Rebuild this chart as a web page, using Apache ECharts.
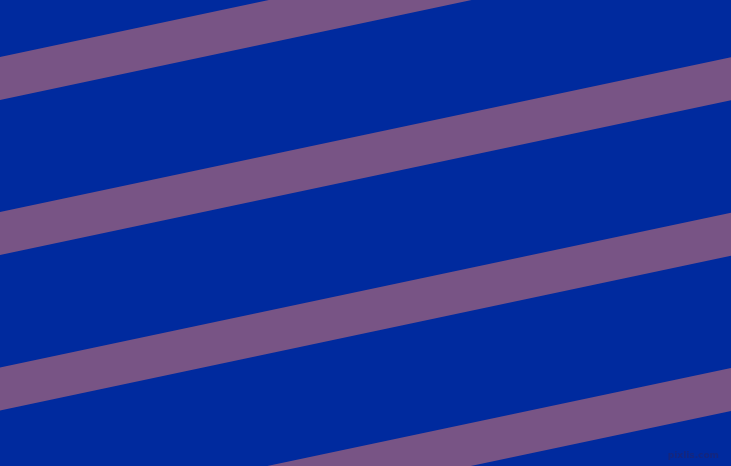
<!DOCTYPE html>
<html>
<head>
<meta charset="utf-8">
<script src="https://cdn.jsdelivr.net/npm/echarts@6/dist/echarts.min.js"></script>
<style>html,body{margin:0;padding:0;background:#002a9e;}#c{width:731px;height:466px;}</style>
</head>
<body>
<div id="c"></div>
<script>
// Stripe edges (y of top edge at left x=0 and at right x=731), in pixel units of the image
const stripeLeftTop = [57, 212, 367.5, 522.5];
const stripeRightTop = [-98, 57.3, 212.7, 368];
const stripeThickness = [43, 43, 43, 43];
const xRange = [0, 731];
const yRange = [0, 466];

const chart = echarts.init(document.getElementById('c'), null, {renderer: 'canvas'});
const data = stripeLeftTop.map((v, i) => [v, stripeRightTop[i], stripeThickness[i]]);
chart.setOption({
  backgroundColor: '#002a9e',
  animation: false,
  grid: {left: 0, right: 0, top: 0, bottom: 0},
  xAxis: {type: 'value', min: xRange[0], max: xRange[1], show: false},
  yAxis: {type: 'value', min: yRange[0], max: yRange[1], inverse: true, show: false},
  series: [{
    type: 'custom',
    clip: true,
    data: data,
    renderItem: function (params, api) {
      const lt = api.value(0), rt = api.value(1), th = api.value(2);
      const pts = [
        api.coord([xRange[0], lt]),
        api.coord([xRange[1], rt]),
        api.coord([xRange[1], rt + th]),
        api.coord([xRange[0], lt + th])
      ];
      return {type: 'polygon', shape: {points: pts}, style: {fill: '#785485'}};
    }
  }],
  graphic: [{
    type: 'text',
    right: 12,
    bottom: 6,
    style: {text: 'pixlis.com', fill: '#14267e', font: 'bold 9px "DejaVu Sans"'}
  }]
});
</script>
</body>
</html>
